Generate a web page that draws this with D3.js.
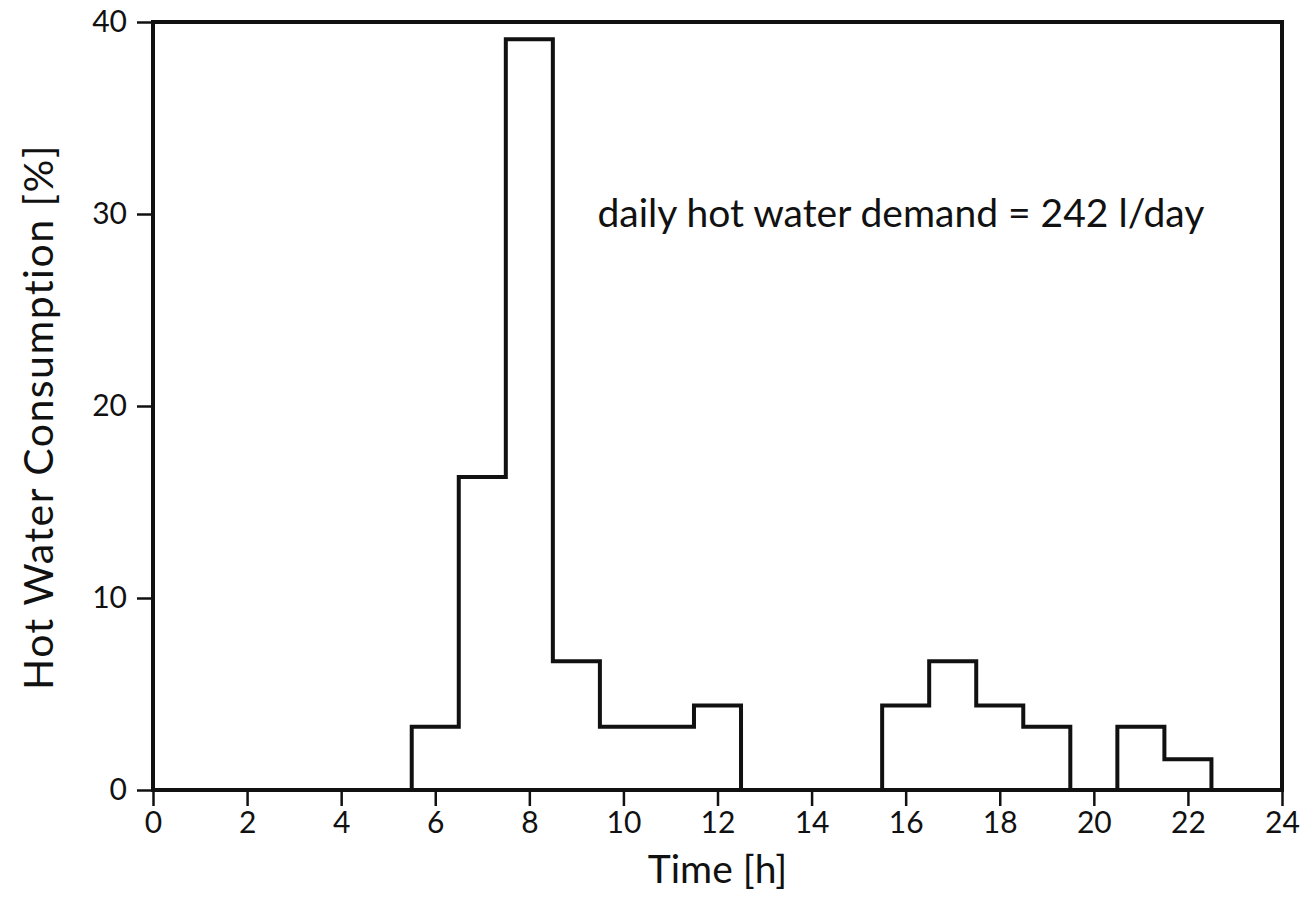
<!DOCTYPE html>
<html>
<head>
<meta charset="utf-8">
<script src="https://cdn.jsdelivr.net/npm/d3@7"></script>
<style>
  body { margin: 0; background: #fff; }
  text { font-family: Lato, "Noto Sans", sans-serif; fill: #111; }
</style>
</head>
<body>
<div id="chart"></div>
<script>
// hourly bins, each centred on the hour (e.g. 6 -> 5.5..6.5)
var hours = [6, 7, 8, 9, 10, 11, 12, 13, 14, 15, 16, 17, 18, 19, 20, 21, 22];
var consumption = [3.3, 16.3, 39.1, 6.7, 3.3, 3.3, 4.4, 0, 0, 0, 4.4, 6.7, 4.4, 3.3, 0, 3.3, 1.6];
var xTicks = [0, 2, 4, 6, 8, 10, 12, 14, 16, 18, 20, 22, 24];
var yTicks = [0, 10, 20, 30, 40];
var note = "daily hot water demand = 242 l/day";

var W = 1307, H = 911,
    margin = {top: 22, right: 25, bottom: 121, left: 153},
    width = W - margin.left - margin.right,
    height = H - margin.top - margin.bottom;

var svg = d3.select("#chart").append("svg")
    .attr("width", W)
    .attr("height", H)
  .append("g")
    .attr("transform", "translate(" + margin.left + "," + margin.top + ")");

var x = d3.scaleLinear().domain([0, 24]).range([0, width]);
var y = d3.scaleLinear().domain([0, 40]).range([height, 0]);

// axes (ticks only, frame drawn separately)
var xAxis = svg.append("g")
    .attr("transform", "translate(0," + height + ")")
    .call(d3.axisBottom(x).tickValues(xTicks).tickSize(16).tickPadding(6));
var yAxis = svg.append("g")
    .call(d3.axisLeft(y).tickValues(yTicks).tickSize(16).tickPadding(10));

[xAxis, yAxis].forEach(function(a) {
  a.select(".domain").remove();
  a.selectAll(".tick line").attr("stroke", "#111").attr("stroke-width", 2.5);
  a.selectAll(".tick text")
    .style("font-family", "Lato, 'Noto Sans', sans-serif")
    .attr("font-size", 30)
    .attr("fill", "#111");
});

// frame
svg.append("rect")
    .attr("x", 0).attr("y", 0)
    .attr("width", width).attr("height", height)
    .attr("fill", "none")
    .attr("stroke", "#111")
    .attr("stroke-width", 4);

// histogram outline
var pts = hours.map(function(h, i) { return [h - 0.5, consumption[i]]; });
pts.unshift([hours[0] - 0.5, 0]);
pts.push([hours[hours.length - 1] + 0.5, 0]);

var line = d3.line()
    .x(function(d) { return x(d[0]); })
    .y(function(d) { return y(d[1]); })
    .curve(d3.curveStepAfter);

svg.append("path")
    .datum(pts)
    .attr("d", line)
    .attr("fill", "none")
    .attr("stroke", "#111")
    .attr("stroke-width", 4)
    .attr("stroke-linejoin", "miter");

// annotation
svg.append("text")
    .attr("x", x(9.45))
    .attr("y", y(29.3))
    .attr("font-size", 39)
    .text(note);

// axis titles
svg.append("text")
    .attr("x", x(12))
    .attr("y", height + 93)
    .attr("text-anchor", "middle")
    .attr("font-size", 39)
    .text("Time [h]");

svg.append("text")
    .attr("transform", "translate(" + (-100) + "," + 395 + ") rotate(-90)")
    .attr("text-anchor", "middle")
    .attr("font-size", 41)
    .attr("letter-spacing", 1.5)
    .text("Hot Water Consumption [%]");
</script>
</body>
</html>
